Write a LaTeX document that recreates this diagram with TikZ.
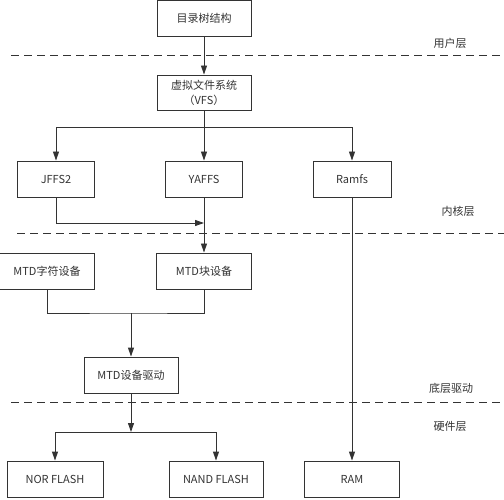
\documentclass[tikz,border=0pt]{standalone}
\usepackage{fontspec}
\setmainfont{Noto Sans CJK SC}
\usepackage{tikz}
\usetikzlibrary{arrows.meta}
\definecolor{ink}{HTML}{333333}

\begin{document}
\begin{tikzpicture}[x=1pt,y=-1pt,
  box/.style={draw=ink,line width=0.9pt,minimum height=36pt,inner sep=1pt,font=\fontsize{11}{15}\selectfont,text=ink,align=center},
  link/.style={draw=ink,line width=0.9pt},
  arr/.style={link,-{Triangle[length=9pt,width=6pt]}},
  layer/.style={draw=ink,line width=0.9pt,dash pattern=on 8pt off 5pt},
  tag/.style={font=\fontsize{11}{13}\selectfont,text=ink}]
% canvas in px, y grows downward
\useasboundingbox (0,0) rectangle (504,500);
% layer separators
\draw[layer] (11,55) -- (504,55);
\draw[layer] (17,233) -- (504,233);
\draw[layer] (11,402) -- (504,402);
\node[tag] (user) at (450,43) {用户层};
\node[tag] (kernel) at (458,211) {内核层};
\node[tag] (driver) at (451,388) {底层驱动};
\node[tag] (hw) at (450,426) {硬件层};
% boxes
\node[box,minimum width=94pt] (tree) at (204,18.5) {目录树结构};
\node[box,minimum width=94pt,minimum height=35pt] (vfs) at (204,92.5) {虚拟文件系统\\（VFS）};
\node[box,minimum width=77pt] (jffs) at (56,179) {JFFS2};
\node[box,minimum width=77pt] (yaffs) at (204,179) {YAFFS};
\node[box,minimum width=78pt] (ramfs) at (352,179) {Ramfs};
\node[box,minimum width=95pt] (mtdchar) at (47,271) {MTD字符设备};
\node[box,minimum width=95pt] (mtdblk) at (204,271) {MTD块设备};
\node[box,minimum width=94pt] (mtddrv) at (131,375) {MTD设备驱动};
\node[box,minimum width=96pt] (nor) at (55,479) {NOR FLASH};
\node[box,minimum width=94pt] (nand) at (216,479) {NAND FLASH};
\node[box,minimum width=95pt] (ram) at (352,479) {RAM};
% joints
\coordinate (fsfork) at (204,127);
\coordinate (jjoin) at (204,223);
\coordinate (mjoin) at (131,313);
\coordinate (hwfork) at (131,432);
% connectors
\draw[arr] (tree) -- (vfs);
\draw[link] (vfs) -- (fsfork);
\draw[arr] (fsfork) -| (jffs.north);
\draw[arr] (fsfork) -- (yaffs);
\draw[arr] (fsfork) -| (ramfs.north);
\draw[arr] (jffs.south) |- (jjoin);
\draw[arr] (yaffs) -- (mtdblk);
\draw[link] (mtdchar.south) |- (mjoin) -| (mtdblk.south);
\draw[arr] (mjoin) -- (mtddrv);
\draw[arr] (mtddrv) -- (hwfork);
\draw[arr] (hwfork) -| (nor.north);
\draw[arr] (hwfork) -| (nand.north);
\draw[arr] (ramfs) -- (ram);
\end{tikzpicture}
\end{document}
